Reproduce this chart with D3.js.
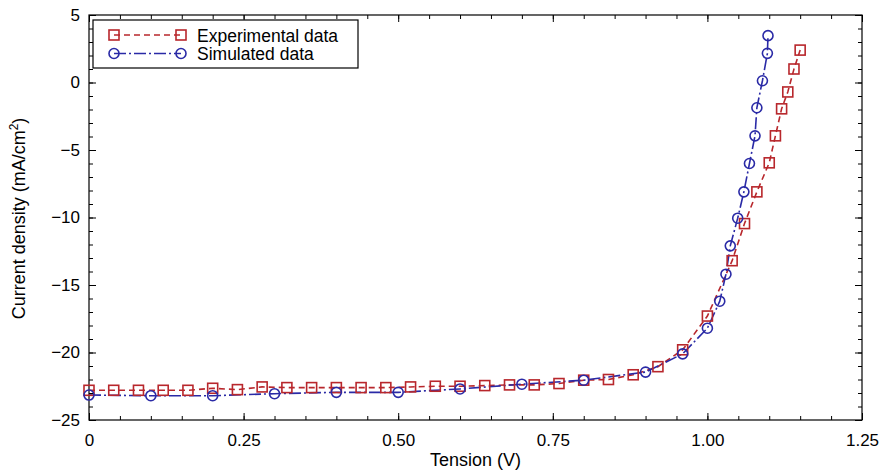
<!DOCTYPE html>
<html>
<head>
<meta charset="utf-8">
<script src="https://cdn.jsdelivr.net/npm/d3@7"></script>
<style>
  body { margin: 0; background: #fff; }
  text { font-family: "Liberation Sans", Arial, sans-serif; }
</style>
</head>
<body>
<div id="chart"></div>
<script>
// experimental J-V points (red squares)
var expV = [0, 0.04, 0.08, 0.12, 0.16, 0.20, 0.24, 0.28, 0.32, 0.36, 0.40, 0.44, 0.48, 0.52, 0.56, 0.60, 0.64, 0.68, 0.72, 0.76, 0.80, 0.84, 0.88, 0.92, 0.96, 1.00, 1.04, 1.06, 1.08, 1.10, 1.11, 1.12, 1.13, 1.14, 1.15];
var expJ = [-22.8, -22.8, -22.8, -22.8, -22.8, -22.65, -22.75, -22.55, -22.6, -22.6, -22.6, -22.6, -22.6, -22.55, -22.5, -22.5, -22.45, -22.4, -22.4, -22.3, -22.05, -22.0, -21.65, -21.05, -19.8, -17.3, -13.2, -10.45, -8.1, -5.95, -3.95, -1.95, -0.7, 1.0, 2.4];

// simulated J-V points (blue circles)
var simV = [0, 0.1, 0.2, 0.3, 0.4, 0.5, 0.6, 0.7, 0.8, 0.9, 0.96, 1.00, 1.02, 1.03, 1.037, 1.049, 1.059, 1.068, 1.077, 1.08, 1.089, 1.097, 1.098];
var simJ = [-23.15, -23.2, -23.2, -23.05, -22.95, -22.95, -22.7, -22.35, -22.05, -21.45, -20.1, -18.2, -16.2, -14.2, -12.1, -10.05, -8.1, -6.0, -3.95, -1.87, 0.13, 2.16, 3.47];

var xTicks = [0, 0.25, 0.5, 0.75, 1.0, 1.25];
var xTickLabels = ["0", "0.25", "0.50", "0.75", "1.00", "1.25"];
var yTicks = [5, 0, -5, -10, -15, -20, -25];
var seriesNames = ["Experimental data", "Simulated data"];

var margin = {top: 15, right: 28, bottom: 51, left: 89},
    width = 890 - margin.left - margin.right,
    height = 471 - margin.top - margin.bottom;

var red = "#b8272c", blue = "#2a2aa6";

var svg = d3.select("#chart")
  .append("svg")
    .attr("width", 890)
    .attr("height", 471)
  .append("g")
    .attr("transform", "translate(" + margin.left + "," + margin.top + ")");

var x = d3.scaleLinear().domain([0, 1.25]).range([0, width]);
var y = d3.scaleLinear().domain([-25, 5]).range([height, 0]);

var minorX = d3.range(0, 1.2501, 0.05);
var minorY = d3.range(-25, 5.001, 1);

// axes: ticks point inward, mirrored on top/right
function axisG(axis, tr) {
  var g = svg.append("g").attr("transform", tr).call(axis);
  g.select(".domain").remove();
  g.selectAll("line").attr("stroke", "#000");
  return g;
}
axisG(d3.axisBottom(x).tickValues(minorX).tickSize(-4).tickFormat(""), "translate(0," + height + ")");
axisG(d3.axisTop(x).tickValues(minorX).tickSize(-4).tickFormat(""), "translate(0,0)");
axisG(d3.axisLeft(y).tickValues(minorY).tickSize(-4).tickFormat(""), "translate(0,0)");
axisG(d3.axisRight(y).tickValues(minorY).tickSize(-4).tickFormat(""), "translate(" + width + ",0)");

var xa = axisG(d3.axisBottom(x).tickValues(xTicks).tickSize(-7).tickPadding(14)
  .tickFormat(function(d, i) { return xTickLabels[i]; }), "translate(0," + height + ")");
xa.selectAll("text").attr("font-size", 17).attr("fill", "#000");
axisG(d3.axisTop(x).tickValues(xTicks).tickSize(-7).tickFormat(""), "translate(0,0)");
var ya = axisG(d3.axisLeft(y).tickValues(yTicks).tickSize(-7).tickPadding(9), "translate(0,0)");
ya.selectAll("text").attr("font-size", 17).attr("fill", "#000");
axisG(d3.axisRight(y).tickValues(yTicks).tickSize(-7).tickFormat(""), "translate(" + width + ",0)");

svg.append("rect")
  .attr("width", width).attr("height", height)
  .attr("fill", "none").attr("stroke", "#000").attr("stroke-width", 1.2);

// axis titles
svg.append("text")
  .attr("x", width / 2).attr("y", height + 46)
  .attr("text-anchor", "middle").attr("font-size", 18)
  .text("Tension (V)");

var yt = svg.append("text")
  .attr("transform", "translate(" + (-64) + "," + (height / 2 + 1) + ") rotate(-90)")
  .attr("text-anchor", "middle").attr("font-size", 18);
yt.append("tspan").text("Current density (mA/cm");
yt.append("tspan").attr("dy", -7).attr("font-size", 12).text("2");
yt.append("tspan").attr("dy", 7).text(")");

// data
var expData = expV.map(function(v, i) { return {v: v, j: expJ[i]}; });
var simData = simV.map(function(v, i) { return {v: v, j: simJ[i]}; });

var line = d3.line()
  .x(function(d) { return x(d.v); })
  .y(function(d) { return y(d.j); });

svg.append("path").datum(expData)
  .attr("d", line).attr("fill", "none")
  .attr("stroke", red).attr("stroke-width", 1.6)
  .attr("stroke-dasharray", "6,4");

svg.append("path").datum(simData)
  .attr("d", line).attr("fill", "none")
  .attr("stroke", blue).attr("stroke-width", 1.6)
  .attr("stroke-dasharray", "12,3,2,3");

svg.selectAll(".sq").data(expData).enter().append("rect")
  .attr("x", function(d) { return x(d.v) - 5; })
  .attr("y", function(d) { return y(d.j) - 5; })
  .attr("width", 10).attr("height", 10)
  .attr("fill", "none").attr("stroke", red).attr("stroke-width", 1.6);

svg.selectAll(".ci").data(simData).enter().append("circle")
  .attr("cx", function(d) { return x(d.v); })
  .attr("cy", function(d) { return y(d.j); })
  .attr("r", 5)
  .attr("fill", "none").attr("stroke", blue).attr("stroke-width", 1.6);

// legend
var leg = svg.append("g").attr("transform", "translate(4,5)");
leg.append("rect")
  .attr("width", 265).attr("height", 48)
  .attr("fill", "#fff").attr("stroke", "#000").attr("stroke-width", 1.2);

var legItems = [
  {name: seriesNames[0], color: red, dash: "6,4", mark: "square"},
  {name: seriesNames[1], color: blue, dash: "12,3,2,3", mark: "circle"}
];
legItems.forEach(function(it, i) {
  var cy = 15 + i * 18.5;
  leg.append("line")
    .attr("x1", 21).attr("x2", 88).attr("y1", cy).attr("y2", cy)
    .attr("stroke", it.color).attr("stroke-width", 1.6)
    .attr("stroke-dasharray", it.dash);
  [21, 88].forEach(function(px) {
    if (it.mark == "square") {
      leg.append("rect").attr("x", px - 5).attr("y", cy - 5)
        .attr("width", 10).attr("height", 10)
        .attr("fill", "none").attr("stroke", it.color).attr("stroke-width", 1.6);
    } else {
      leg.append("circle").attr("cx", px).attr("cy", cy).attr("r", 5)
        .attr("fill", "none").attr("stroke", it.color).attr("stroke-width", 1.6);
    }
  });
  leg.append("text")
    .attr("x", 104).attr("y", cy + 6.5)
    .attr("font-size", 17.5)
    .text(it.name);
});
</script>
</body>
</html>
